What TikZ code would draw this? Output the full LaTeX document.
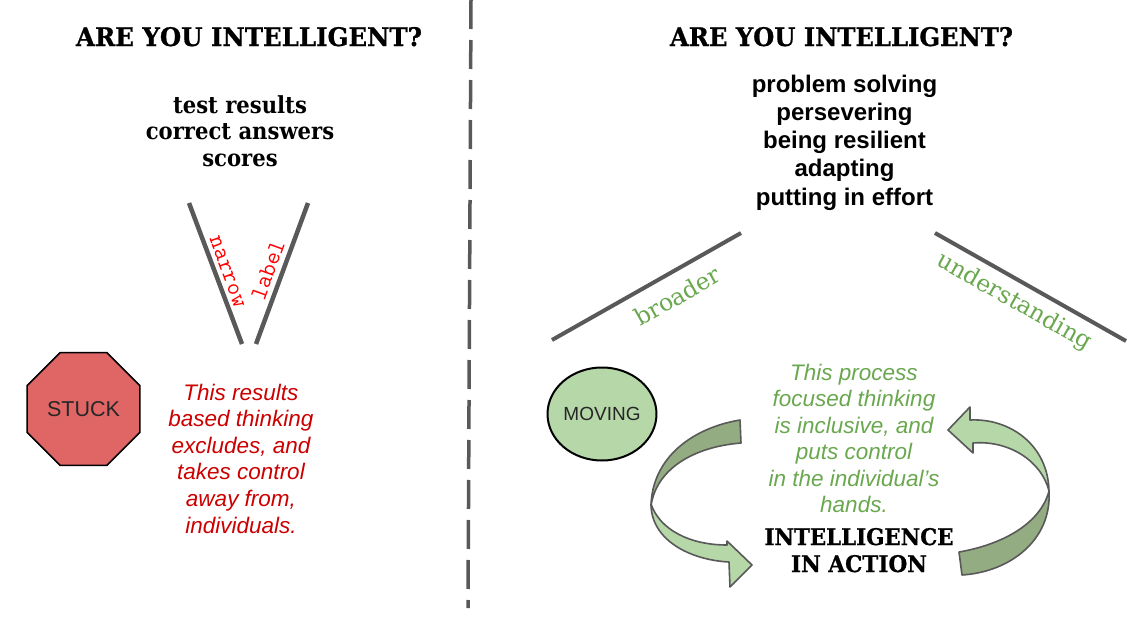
\documentclass[tikz,border=0pt]{standalone}
\usepackage{fontspec}
\usepackage{graphicx}
\setmainfont{Liberation Sans}
\newfontfamily\slab[FakeStretch=0.9]{DejaVu Serif}
\newfontfamily\slabplain{DejaVu Serif}
\newfontfamily\slabheavy[FakeBold=0.8]{DejaVu Serif Bold}
\usetikzlibrary{shapes.geometric}
\definecolor{lineg}{HTML}{595959}
\definecolor{redtxt}{HTML}{CC0000}
\definecolor{greentxt}{HTML}{6AA84F}
\definecolor{stopred}{HTML}{E06666}
\definecolor{lightg}{HTML}{B6D7A8}
\definecolor{darkg}{HTML}{93AC82}
\newcommand{\blk}[1]{\begin{tabular}[t]{@{}c@{}}#1\end{tabular}}
\begin{document}
\begin{tikzpicture}[x=1pt,y=-1pt,
  every node/.style={inner sep=0pt,outer sep=0pt},
  bar/.style={draw=lineg,line width=4.5pt},
  dashline/.style={draw=lineg,line width=3.5pt,dash pattern=on 29pt off 11pt},
  heading/.style={anchor=base,text=black},
  listtxt/.style={anchor=base,text=black},
  redit/.style={anchor=base,text=redtxt,font=\fontsize{22.5}{26.6}\selectfont\itshape},
  greenit/.style={anchor=base,text=greentxt,font=\fontsize{22.5}{26.5}\selectfont\itshape},
  monolbl/.style={text=red,font=\fontsize{24}{24}\selectfont\ttfamily},
  slablbl/.style={text=greentxt,font=\fontsize{23.5}{23.5}\selectfont\slabplain},
  arrowdark/.style={fill=darkg,draw=lineg,line width=1.6pt,line join=round},
  arrowlight/.style={fill=lightg,draw=lineg,line width=1.6pt,line join=round}]
\useasboundingbox (0,0) rectangle (1136,629);
\fill[white] (0,0) rectangle (1136,629);

% divider
\coordinate (divtop) at (471,0);
\coordinate (divbot) at (468,608);
\draw[dashline] (divtop) -- (divbot);

% headings
\node[heading] (headL) at (249,46) {\resizebox{346pt}{19pt}{\slabheavy ARE YOU INTELLIGENT?}};
\node[heading] (headR) at (841.5,46) {\resizebox{343pt}{19pt}{\slabheavy ARE YOU INTELLIGENT?}};

% left list
\node[listtxt,font=\fontsize{23.5}{26.5}\selectfont\slab\bfseries] (listL) at (240,113)
  {\blk{test results\\correct answers\\scores}};

% right list
\node[listtxt,font=\fontsize{24}{28.3}\selectfont\bfseries] (listR) at (844.5,92)
  {\blk{problem solving\\persevering\\being resilient\\adapting\\putting in effort}};

% V lines
\coordinate (vl1) at (189,203);
\coordinate (vl2) at (242,344);
\coordinate (vr1) at (308,203);
\coordinate (vr2) at (256,344);
\draw[bar] (vl1) -- (vl2);
\draw[bar] (vr1) -- (vr2);
\node[monolbl,rotate=-70] (narrow) at (227,272) {narrow};
\node[monolbl,rotate=70] (label) at (268,270) {label};

% broader understanding lines
\coordinate (bl1) at (552,340);
\coordinate (bl2) at (741,233);
\coordinate (ul1) at (935,233);
\coordinate (ul2) at (1126,341);
\draw[bar,line width=4pt] (bl1) -- (bl2);
\draw[bar,line width=4pt] (ul1) -- (ul2);
\node[slablbl,rotate=29.5] (broader) at (677,296) {broader};
\node[slablbl,rotate=-29.5] (underst) at (1014,302) {understanding};

% stop sign
\node[regular polygon,regular polygon sides=8,minimum size=122pt,fill=stopred,draw=black,line width=1.6pt,
  text=black!85,font=\fontsize{21.5}{21.5}\selectfont] (stuck) at (83.5,409) {STUCK};

\node[redit] (redtext) at (241,400)
  {\blk{This results\\based thinking\\excludes, and\\takes control\\away from,\\individuals.}};

% moving
\node[ellipse,minimum width=106pt,minimum height=93pt,fill=lightg,draw=black,line width=2pt,
  text=black!85,font=\fontsize{19}{19}\selectfont] (moving) at (602,414) {MOVING};

\node[greenit] (greentext) at (854,380)
  {\blk{This process\\focused thinking\\is inclusive, and\\puts control\\in the individual’s\\hands.}};

\node[anchor=base,font=\fontsize{17}{27}\selectfont] (action) at (859,545)
  {\blk{\resizebox{189pt}{17pt}{\slabheavy INTELLIGENCE}\\\resizebox{136pt}{17pt}{\slabheavy IN ACTION}}};

% left curved arrow
\filldraw[arrowdark] (740,420) .. controls (692,428) and (652,458) .. (651,506)
  .. controls (656,470) and (692,447) .. (741,443) -- cycle;
\filldraw[arrowlight] (651,504) .. controls (651,540) and (690,560) .. (729,562)
  -- (730,587) -- (752,565) -- (727,541) -- (727,545)
  .. controls (690,545) and (660,530) .. (651,504) -- cycle;

% right curved arrow
\filldraw[arrowdark] (959,552) .. controls (1000,545) and (1040,525) .. (1049,491)
  .. controls (1052,540) and (1010,572) .. (962,575) -- cycle;
\filldraw[arrowlight] (1049,491) .. controls (1048,445) and (1010,418) .. (970,420)
  -- (970,407) -- (948,430) -- (973,453) -- (973,443)
  .. controls (1010,440) and (1042,462) .. (1049,491) -- cycle;
\end{tikzpicture}
\end{document}
